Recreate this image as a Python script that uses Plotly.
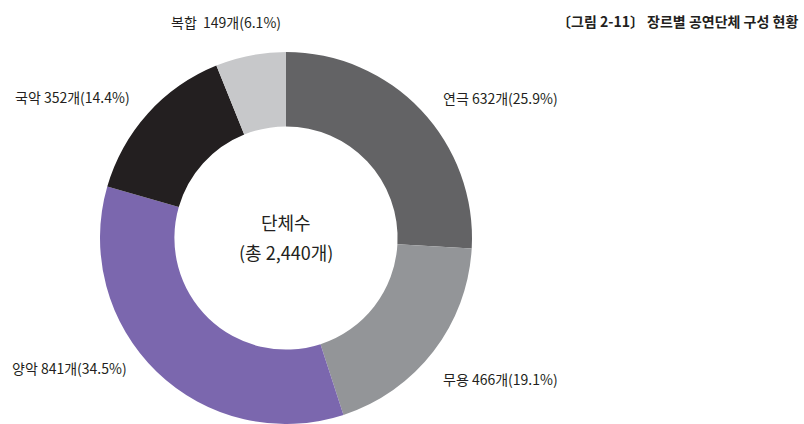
import plotly.graph_objects as go

genres = ["연극", "무용", "양악", "국악", "복합"]
counts = [632, 466, 841, 352, 149]
shares = [25.9, 19.1, 34.5, 14.4, 6.1]
colors = ["#636365", "#939598", "#7b67ae", "#231f20", "#c7c8ca"]
total = 2440
title = "〔그림 2-11〕 장르별 공연단체 구성 현황"

W, H = 804, 424
cx, cy, R = 286, 238, 186  # pixel geometry of donut (from top-left)

fig = go.Figure(go.Pie(
    labels=genres, values=counts, sort=False, direction="clockwise", rotation=0,
    hole=0.6, marker=dict(colors=colors, line=dict(width=0)),
    textinfo="none", hoverinfo="label+value+percent", showlegend=False,
    domain=dict(x=[(cx - R) / W, (cx + R) / W], y=[(H - cy - R) / H, (H - cy + R) / H]),
))

font = "Noto Sans CJK KR"
tc = "#231f20"
label_pos = {
    "복합": (226, 22, "center"),
    "국악": (13, 97, "left"),
    "연극": (441, 98, "left"),
    "양악": (10, 368, "left"),
    "무용": (441, 379, "left"),
}
for g, c, s in zip(genres, counts, shares):
    x, y, anchor = label_pos[g]
    sep = "  " if g == "복합" else " "
    fig.add_annotation(x=x / W, y=1 - y / H, xref="paper", yref="paper",
                       text=f"{g}{sep}{c}개({s}%)", showarrow=False,
                       xanchor=anchor, yanchor="middle",
                       font=dict(family=font, size=14, color=tc))

fig.add_annotation(x=cx / W, y=1 - 222 / H, xref="paper", yref="paper", text="단체수",
                   showarrow=False, xanchor="center", yanchor="middle",
                   font=dict(family=font, size=18, color=tc))
fig.add_annotation(x=cx / W, y=1 - 252 / H, xref="paper", yref="paper",
                   text=f"(총 {total:,}개)", showarrow=False, xanchor="center", yanchor="middle",
                   font=dict(family=font, size=18, color=tc))
fig.add_annotation(x=800 / W, y=1 - 21 / H, xref="paper", yref="paper",
                   text=f"<b>{title}</b>", showarrow=False, xanchor="right", yanchor="middle",
                   font=dict(family=font, size=14, color=tc))

fig.update_layout(width=W, height=H, margin=dict(l=0, r=0, t=0, b=0),
                  paper_bgcolor="white", plot_bgcolor="white")
fig.write_html("out.html", config={"displayModeBar": False},
               post_script="document.body.style.margin='0';document.body.style.overflow='hidden';")
